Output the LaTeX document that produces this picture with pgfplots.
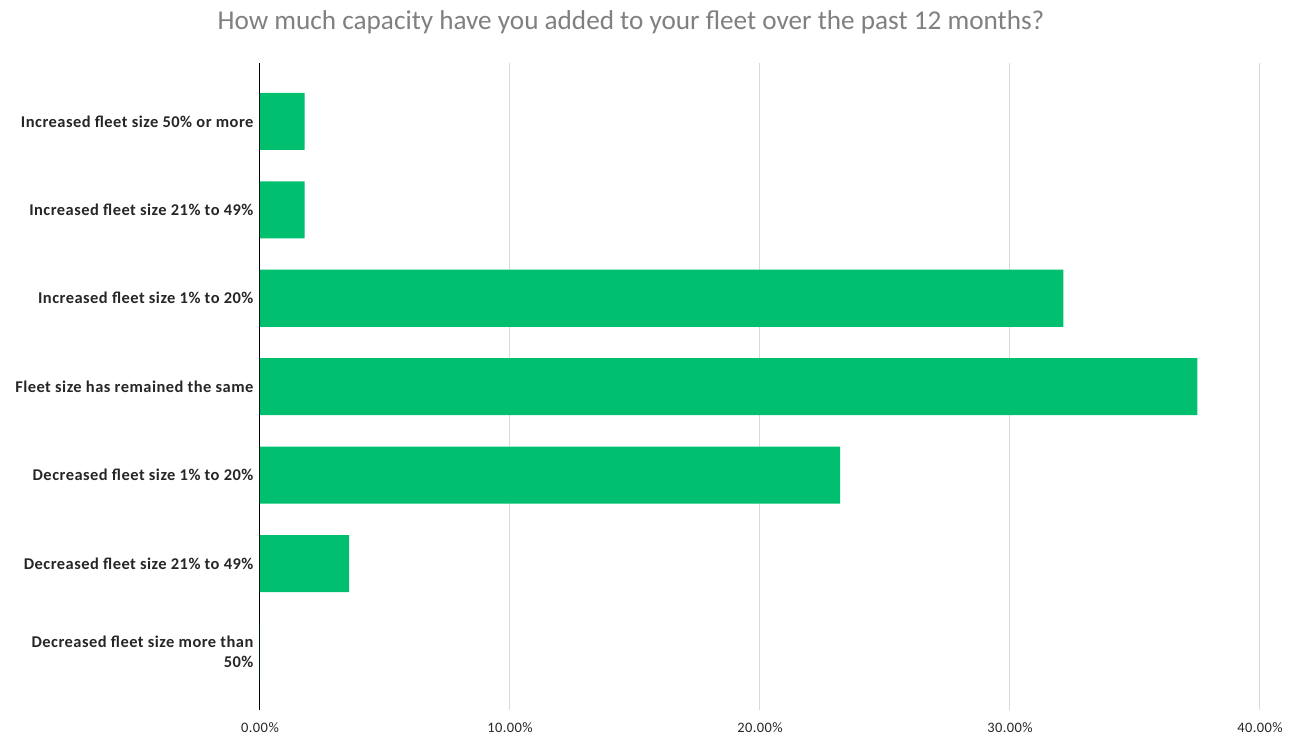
\documentclass[border=0pt]{standalone}
\usepackage{pgfplots}
\pgfplotsset{compat=1.18}
\usepackage{fontspec}
\setmainfont{Carlito}
\newfontfamily\labfont[LetterSpace=3]{Carlito}
\definecolor{smgreen}{RGB}{0,191,111}
\definecolor{gridgray}{RGB}{217,217,217}
\definecolor{labelc}{RGB}{38,38,38}
\definecolor{titlec}{RGB}{128,128,128}
\begin{document}
\begin{tikzpicture}[x=1bp,y=1bp]
\useasboundingbox (-260bp,-25bp) rectangle (1035bp,710bp);
\begin{axis}[
  at={(0,0)}, anchor=south west,
  scale only axis,
  width=1000bp, height=647bp,
  xbar, bar width=0.645,
  xmin=0, xmax=40,
  ymin=-0.656, ymax=6.66,
  xtick={0,10,20,30,40},
  xticklabels={0.00\%,10.00\%,20.00\%,30.00\%,40.00\%},
  ytick={0,1,2,3,4,5,6},
  yticklabels={{Decreased fleet size more than\\50\%},
    Decreased fleet size 21\% to 49\%,
    Decreased fleet size 1\% to 20\%,
    Fleet size has remained the same,
    Increased fleet size 1\% to 20\%,
    Increased fleet size 21\% to 49\%,
    Increased fleet size 50\% or more},
  yticklabel style={font=\labfont\fontsize{16.5}{20}\selectfont\bfseries, text=labelc, align=right, xshift=-3bp},
  xticklabel style={font=\labfont\fontsize{14.5}{17}\selectfont, text=labelc, yshift=-9bp},
  major tick length=0pt,
  axis x line*=bottom, axis y line*=left,
  x axis line style={draw=none},
  y axis line style={draw=black, line width=1bp},
  xmajorgrids, grid style={gridgray, line width=1bp},
  axis on top=false,
]
\addplot[draw=none, fill=smgreen] coordinates {
  (0,0) (3.57,1) (23.21,2) (37.5,3) (32.14,4) (1.79,5) (1.79,6)};
\end{axis}
\node[text=titlec, font=\fontsize{27.3}{31}\selectfont] at (371bp,688bp) {How much capacity have you added to your fleet over the past 12 months?};
\end{tikzpicture}
\end{document}
